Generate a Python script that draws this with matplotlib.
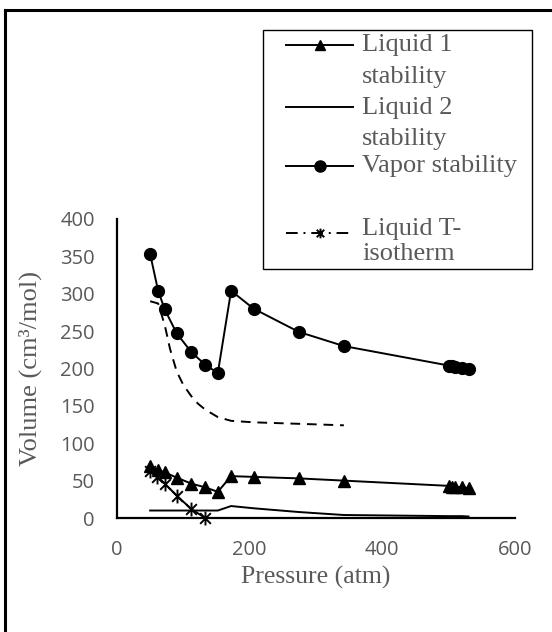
import matplotlib
matplotlib.use('Agg')
import matplotlib.pyplot as plt
from matplotlib.path import Path
from matplotlib.lines import Line2D
from matplotlib.patches import Rectangle

# data
p_liq1 = [50, 62, 72, 90, 112, 133, 152, 172, 206, 274, 342, 500, 505, 510, 520, 530]
v_liq1 = [69, 64, 61, 54, 46, 41, 35, 56, 55, 53, 50, 43, 42, 42, 41, 40]

p_liq2 = [50, 62, 72, 90, 112, 133, 152, 172, 206, 274, 342, 500, 505, 510, 520, 530]
v_liq2 = [10, 10, 10, 10, 10, 10, 10, 16, 13, 8, 4, 2.5, 2.5, 2.5, 2.5, 2]

p_vap = [50, 62, 72, 90, 112, 133, 152, 172, 206, 274, 342, 500, 505, 510, 520, 530]
v_vap = [353, 304, 279, 247, 222, 205, 194, 304, 280, 249, 230, 204, 203, 202, 201, 200]

p_iso = [50, 60, 72, 90, 112, 133]
v_iso = [63, 55, 46, 30, 12, 0]

p_dash = [50, 62, 72, 80, 90, 100, 112, 122, 133, 152, 172, 206, 274, 342]
v_dash = [290, 287, 258, 226, 196, 178, 163, 153, 145, 135, 130, 128, 126, 124]

W, H = 552, 632
fig = plt.figure(figsize=(W / 100, H / 100), dpi=100)
ax = fig.add_axes([117 / W, 1 - 518 / H, (515 - 117) / W, (518 - 219) / H])

gray = '#595959'
serif = 'Liberation Serif'

# asterisk marker like excel (x plus vertical bar)
star = Path([(-1, -1), (1, 1), (-1, 1), (1, -1), (0, -1.3), (0, 1.3)],
            [Path.MOVETO, Path.LINETO, Path.MOVETO, Path.LINETO, Path.MOVETO, Path.LINETO])

lw = 1.4
ax.plot(p_dash, v_dash, color='black', lw=lw, linestyle=(0, (5, 3.5)))
ax.plot(p_liq2, v_liq2, color='black', lw=lw)
ax.plot(p_liq1, v_liq1, color='black', lw=lw, marker='^', markersize=9)
ax.plot(p_vap, v_vap, color='black', lw=lw, marker='o', markersize=8.5)
ax.plot(p_iso, v_iso, color='black', lw=lw, marker=star, markersize=10,
        markeredgewidth=1.4, clip_on=False)

ax.set_xlim(0, 600)
ax.set_ylim(0, 400)
ax.set_xticks([0, 200, 400, 600])
ax.set_yticks(range(0, 401, 50))
ax.spines['top'].set_visible(False)
ax.spines['right'].set_visible(False)
for s in ['left', 'bottom']:
    ax.spines[s].set_linewidth(1.6)
ax.tick_params(length=0, labelsize=14.5, labelcolor=gray, pad=16)
for lab in ax.get_xticklabels() + ax.get_yticklabels():
    lab.set_fontfamily('Open Sans')

fig.text(316 / W, 1 - 577 / H, 'Pressure (atm)', family=serif, fontsize=18.5,
         color=gray, ha='center', va='center')
fig.text(30 / W, 1 - 369 / H, 'Volume (cm³/mol)', family=serif, fontsize=19,
         color=gray, ha='center', va='center', rotation=90)

# figure frame (left and top only visible)
fig.add_artist(Line2D([5 / W, 5 / W], [0, 1 - 10 / H], color='black', lw=2.2,
                      transform=fig.transFigure))
fig.add_artist(Line2D([5 / W, 1], [1 - 10 / H, 1 - 10 / H], color='black', lw=2.2,
                      transform=fig.transFigure))

# legend drawn by hand
fig.add_artist(Rectangle((263 / W, 1 - 269 / H), (532 - 263) / W, (269 - 30) / H,
                         transform=fig.transFigure, fill=False, edgecolor='black', lw=1))
hx = [286 / W, 353 / W]
mx = [319.5 / W]


def yy(py):
    return 1 - py / H


fig.add_artist(Line2D(hx, [yy(45)] * 2, color='black', lw=lw, transform=fig.transFigure))
fig.add_artist(Line2D(mx, [yy(45)], color='black', marker='^', markersize=7, transform=fig.transFigure))
fig.add_artist(Line2D(hx, [yy(107)] * 2, color='black', lw=lw, transform=fig.transFigure))
fig.add_artist(Line2D(hx, [yy(166)] * 2, color='black', lw=lw, transform=fig.transFigure))
fig.add_artist(Line2D(mx, [yy(166)], color='black', marker='o', markersize=8, transform=fig.transFigure))
fig.add_artist(Line2D(hx, [yy(233)] * 2, color='black', lw=lw, linestyle=(0, (6, 3, 1, 3)),
                      transform=fig.transFigure))
fig.add_artist(Line2D(mx, [yy(233)], color='black', marker=star, markersize=7,
                      markeredgewidth=1.4, transform=fig.transFigure))

leg_text = [(45, 'Liquid 1'), (77, 'stability'), (108, 'Liquid 2'), (139, 'stability'),
            (166, 'Vapor stability'), (229, 'Liquid T-'), (254, 'isotherm')]
for py, t in leg_text:
    fig.text(362 / W, yy(py), t, family=serif, fontsize=19, color=gray,
             ha='left', va='center')

fig.savefig('out.png', dpi=100)
